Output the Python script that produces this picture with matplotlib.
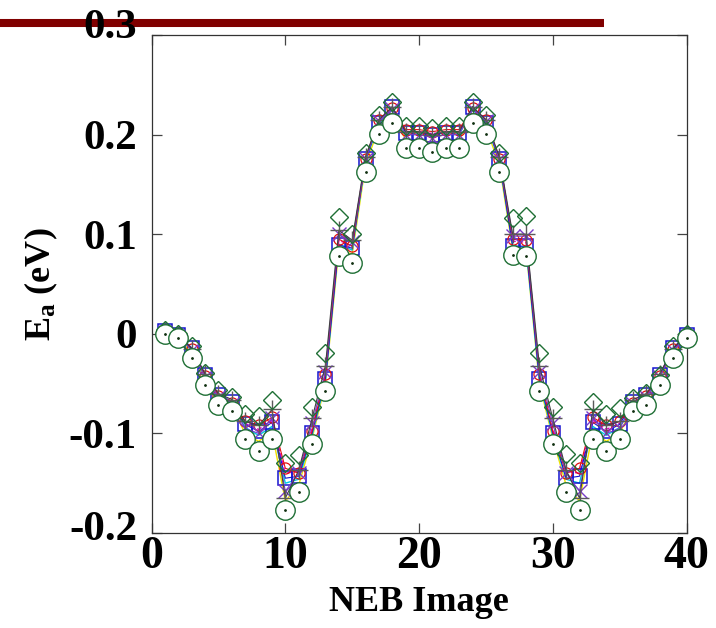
import matplotlib
matplotlib.use('Agg')
import matplotlib.pyplot as plt
from matplotlib.lines import Line2D
from matplotlib.transforms import offset_copy

plt.rcParams['font.family'] = ['Liberation Serif', 'DejaVu Serif']
plt.rcParams['font.weight'] = 'bold'
plt.rcParams['axes.unicode_minus'] = False
plt.rcParams['mathtext.fontset'] = 'custom'
plt.rcParams['mathtext.rm'] = 'Liberation Serif'
plt.rcParams['mathtext.bf'] = 'Liberation Serif:bold'

# ---------------- data ----------------
images = list(range(1, 41))

circle_E = [0.000, -0.004, -0.024, -0.051, -0.071, -0.078, -0.106, -0.118, -0.106, -0.177,
            -0.159, -0.111, -0.057, 0.078, 0.071, 0.162, 0.201, 0.212, 0.187, 0.187,
            0.183, 0.187, 0.187, 0.212, 0.201, 0.162, 0.079, 0.078, -0.057, -0.111,
            -0.159, -0.177, -0.106, -0.118, -0.106, -0.078, -0.071, -0.051, -0.024, -0.004]

square_E = [0.003, -0.001, -0.014, -0.041, -0.061, -0.068, -0.091, -0.098, -0.089, -0.145,
            -0.143, -0.100, -0.045, 0.089, 0.086, 0.175, 0.212, 0.228, 0.202, 0.202,
            0.200, 0.202, 0.202, 0.228, 0.212, 0.175, 0.088, 0.088, -0.045, -0.100,
            -0.145, -0.143, -0.089, -0.098, -0.091, -0.068, -0.061, -0.041, -0.014, -0.001]

diamond_E = [0.004, 0.000, -0.012, -0.039, -0.056, -0.063, -0.081, -0.083, -0.066, -0.130,
             -0.122, -0.073, -0.019, 0.117, 0.100, 0.182, 0.220, 0.233, 0.209, 0.209,
             0.207, 0.209, 0.209, 0.233, 0.220, 0.182, 0.116, 0.118, -0.019, -0.073,
             -0.121, -0.130, -0.068, -0.081, -0.074, -0.064, -0.059, -0.041, -0.012, 0.000]

cross_E = [0.002, -0.002, -0.016, -0.043, -0.063, -0.070, -0.095, -0.100, -0.085, -0.158,
           -0.140, -0.090, -0.038, 0.100, 0.092, 0.175, 0.214, 0.226, 0.200, 0.200,
           0.197, 0.200, 0.200, 0.226, 0.214, 0.175, 0.098, 0.098, -0.038, -0.090,
           -0.140, -0.158, -0.085, -0.100, -0.095, -0.070, -0.063, -0.043, -0.016, -0.002]

plus_E = [0.003, -0.001, -0.015, -0.040, -0.060, -0.066, -0.088, -0.092, -0.076, -0.165,
          -0.137, -0.085, -0.032, 0.104, 0.094, 0.178, 0.215, 0.228, 0.203, 0.203,
          0.200, 0.203, 0.203, 0.228, 0.215, 0.178, 0.100, 0.100, -0.032, -0.085,
          -0.137, -0.165, -0.076, -0.092, -0.088, -0.066, -0.060, -0.040, -0.015, -0.001]

redcirc_E = [0.002, -0.002, -0.015, -0.042, -0.062, -0.069, -0.088, -0.092, -0.084, -0.135,
             -0.140, -0.098, -0.040, 0.095, 0.088, 0.176, 0.215, 0.227, 0.205, 0.205,
             0.203, 0.205, 0.205, 0.227, 0.215, 0.176, 0.095, 0.094, -0.040, -0.098,
             -0.140, -0.135, -0.084, -0.092, -0.088, -0.069, -0.062, -0.042, -0.015, -0.002]

yellow_E = [0.001, -0.003, -0.020, -0.047, -0.066, -0.073, -0.100, -0.108, -0.098, -0.168,
            -0.152, -0.105, -0.050, 0.085, 0.080, 0.170, 0.207, 0.220, 0.195, 0.195,
            0.192, 0.195, 0.195, 0.220, 0.207, 0.170, 0.085, 0.085, -0.050, -0.105,
            -0.152, -0.168, -0.098, -0.108, -0.100, -0.073, -0.066, -0.047, -0.020, -0.003]

cyan_E = [0.002, -0.002, -0.017, -0.044, -0.064, -0.071, -0.094, -0.102, -0.093, -0.150,
          -0.146, -0.102, -0.047, 0.090, 0.084, 0.174, 0.211, 0.225, 0.200, 0.200,
          0.198, 0.200, 0.200, 0.225, 0.211, 0.174, 0.088, 0.087, -0.047, -0.102,
          -0.146, -0.150, -0.093, -0.102, -0.094, -0.071, -0.064, -0.044, -0.017, -0.002]

magenta_E = [0.002, -0.001, -0.016, -0.043, -0.062, -0.069, -0.090, -0.096, -0.087, -0.140,
             -0.138, -0.095, -0.040, 0.094, 0.088, 0.177, 0.213, 0.226, 0.203, 0.203,
             0.201, 0.203, 0.203, 0.226, 0.213, 0.177, 0.093, 0.092, -0.040, -0.095,
             -0.138, -0.140, -0.087, -0.096, -0.090, -0.069, -0.062, -0.043, -0.016, -0.001]

x_ticks = [0, 10, 20, 30, 40]
y_ticks = [-0.2, -0.1, 0, 0.1, 0.2, 0.3]
y_ticklabels = ['-0.2', '-0.1', '0', '0.1', '0.2', '0.3']

# ---------------- figure ----------------
W, H = 716, 628
fig = plt.figure(figsize=(W / 100, H / 100), dpi=100)
ax = fig.add_axes([151.6 / W, 1 - 533 / H, (686.5 - 151.6) / W, (533 - 35) / H])

green = '#1f6f35'
lw = 0.8
ax.plot(images, yellow_E, color='#f0e000', lw=1.0, zorder=2, clip_on=False)
ax.plot(images, cyan_E, color='#00c8e0', lw=1.0, zorder=2, clip_on=False)
ax.plot(images, magenta_E, color='#e000c0', lw=1.0, ls='--', zorder=2, clip_on=False)
ax.plot(images, square_E, color='#1515d0', lw=lw, marker='s', ms=10,
        mfc='none', mec='#1515d0', mew=1.1, zorder=3, clip_on=False)
ax.plot(images, redcirc_E, color='#e01010', lw=lw, marker='o', ms=8,
        mfc='none', mec='#e01010', mew=0.9, zorder=3, clip_on=False)
ax.plot(images, cross_E, color='#7a3cc8', lw=lw, marker='x', ms=10,
        mec='#7a3cc8', mew=1.0, zorder=3, clip_on=False)
ax.plot(images, plus_E, color='#404040', lw=lw, marker='+', ms=13,
        mec='#5a5a5a', mew=1.0, zorder=3, clip_on=False)
ax.plot(images, diamond_E, ls='none', marker='D', ms=9,
        mfc='none', mec=green, mew=1.0, zorder=4, clip_on=False)
ax.plot(images, circle_E, ls='none', marker='o', ms=14,
        mfc='white', mec=green, mew=1.0, zorder=5, clip_on=False)
ax.plot(images, circle_E, ls='none', marker='.', ms=2,
        color='#103010', zorder=6, clip_on=False)

ax.set_xlim(0, 40)
ax.set_ylim(-0.2, 0.3)
ax.set_xticks(x_ticks)
ax.set_xticklabels([str(v) for v in x_ticks])
ax.set_yticks(y_ticks)
ax.set_yticklabels(['' if l in ('0.3', '-0.2') else l for l in y_ticklabels])

for s in ax.spines.values():
    s.set_color('#333333')
    s.set_linewidth(0.9)
ax.tick_params(direction='in', length=7, width=0.9, color='#444444',
               top=True, right=True)
ax.tick_params(axis='x', labelsize=33, pad=2)
ax.tick_params(axis='y', labelsize=31, pad=10.5)
for t in ax.get_xticklabels() + ax.get_yticklabels():
    t.set_fontweight('bold')

# edge y tick labels (drawn slightly shifted like the reference)
tr_top = offset_copy(ax.get_yaxis_transform(), fig=fig, x=-10.5, y=8, units='points')
ax.text(0, y_ticks[-1], y_ticklabels[-1], transform=tr_top, ha='right',
        va='center_baseline', fontsize=31, fontweight='bold', zorder=10)
tr_bot = offset_copy(ax.get_yaxis_transform(), fig=fig, x=-10.5, y=5.3, units='points')
ax.text(0, y_ticks[0], y_ticklabels[0], transform=tr_bot, ha='right',
        va='center_baseline', fontsize=31, fontweight='bold', zorder=10)

ax.set_xlabel('NEB Image', fontsize=26, fontweight='bold', labelpad=6)
ax.set_ylabel(r'$\mathbf{E_a}$ (eV)', fontsize=26, fontweight='bold', labelpad=6)

# dark red bar across the top of the figure
fig.add_artist(Line2D([0, 604 / W], [1 - 22.7 / H, 1 - 22.7 / H],
                      transform=fig.transFigure, color='#800000', lw=5.8,
                      solid_capstyle='butt', zorder=-1))

fig.savefig('out.png', dpi=100)
